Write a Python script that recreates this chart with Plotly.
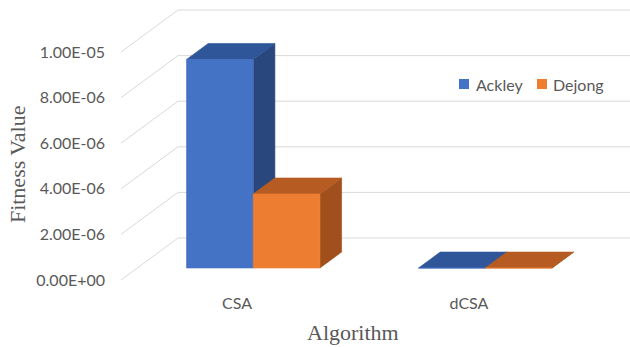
import plotly.graph_objects as go

# ---- data ----
algorithms = ["CSA", "dCSA"]
ackley = [9.15e-6, 1.2e-9]
dejong = [3.25e-6, 9.0e-10]
series_names = ["Ackley", "Dejong"]
y_ticks = [0, 2e-6, 4e-6, 6e-6, 8e-6, 1e-5]

# ---- styling ----
front_cols = ["#4472C4", "#ED7D31"]
top_cols = ["#30569A", "#B65B22"]
side_cols = ["#29477C", "#A0501C"]
grid_col = "#D9D9D9"
text_col = "#595959"

# oblique depth vector (x in category units, y in value units)
DX = 0.2457
DY = 1.842e-6
F0, F1 = 0.285, 0.665      # bar front / back position inside the depth
BW = 0.2875                # bar width in category units

X_MIN, X_MAX = -0.5, 1.694
Y_MIN, Y_MAX = 0.0, 1.2281e-5

fig = go.Figure()

# back wall grid + oblique connectors on the left
gx, gy = [], []
for v in y_ticks:
    gx += [X_MIN, X_MIN + DX, 1.5 + DX, None]
    gy += [v, v + DY, v + DY, None]
fig.add_trace(go.Scatter(x=gx, y=gy, mode="lines",
                         line=dict(color=grid_col, width=1),
                         hoverinfo="skip", showlegend=False))


def face(xs, ys, col):
    fig.add_trace(go.Scatter(x=xs + [xs[0]], y=ys + [ys[0]], mode="lines",
                             fill="toself", fillcolor=col,
                             line=dict(color=col, width=0.6),
                             hoverinfo="skip", showlegend=False))


def bar3d(xl, v, k):
    xr = xl + BW
    a0x, a0y = F0 * DX, F0 * DY
    a1x, a1y = F1 * DX, F1 * DY
    # right side
    face([xr + a0x, xr + a1x, xr + a1x, xr + a0x],
         [a0y, a1y, v + a1y, v + a0y], side_cols[k])
    # top
    face([xl + a0x, xr + a0x, xr + a1x, xl + a1x],
         [v + a0y, v + a0y, v + a1y, v + a1y], top_cols[k])
    # front
    face([xl + a0x, xr + a0x, xr + a0x, xl + a0x],
         [a0y, a0y, v + a0y, v + a0y], front_cols[k])


for i, _ in enumerate(algorithms):
    bar3d(i - BW, ackley[i], 0)
    bar3d(i, dejong[i], 1)

fig.update_layout(
    width=630, height=347,
    margin=dict(l=121, r=0, t=0, b=67),
    paper_bgcolor="white", plot_bgcolor="white",
    showlegend=False,
    font=dict(family="Lato", size=16, color=text_col),
    xaxis=dict(range=[X_MIN, X_MAX], showgrid=False, zeroline=False,
               showline=False, tickvals=list(range(len(algorithms))),
               ticktext=algorithms, ticks="", ticklabelstandoff=12,
               tickfont=dict(family="Lato", size=16, color=text_col),
               fixedrange=True),
    yaxis=dict(range=[Y_MIN, Y_MAX], showgrid=False, zeroline=False,
               showline=False, tickvals=y_ticks,
               ticktext=[f"{v:.2E}" for v in y_ticks], ticks="",
               ticklabelstandoff=15,
               tickfont=dict(family="Lato", size=16, color=text_col),
               fixedrange=True),
)

# axis titles
fig.add_annotation(text="Fitness Value", xref="paper", yref="paper",
                   x=-0.2043, y=0.414, xanchor="center", yanchor="middle",
                   textangle=-90, showarrow=False,
                   font=dict(family="Liberation Serif", size=22, color=text_col))
fig.add_annotation(text="Algorithm", xref="x", yref="paper",
                   x=0.5, y=-0.189, xanchor="center", yanchor="middle",
                   showarrow=False,
                   font=dict(family="Liberation Serif", size=22, color=text_col))

# legend
leg_sq = [(0.6640, 0.6837), (0.8173, 0.8369)]
leg_tx = [0.6935, 0.8448]
for k, name in enumerate(series_names):
    x0, x1 = leg_sq[k]
    fig.add_shape(type="rect", xref="paper", yref="paper",
                  x0=x0, x1=x1, y0=0.6821, y1=0.7179,
                  fillcolor=front_cols[k], line=dict(width=0))
    fig.add_annotation(text=name, xref="paper", yref="paper",
                       x=leg_tx[k], y=0.70, xanchor="left", yanchor="middle",
                       showarrow=False,
                       font=dict(family="Lato", size=16, color=text_col))

fig.write_html("out.html")
